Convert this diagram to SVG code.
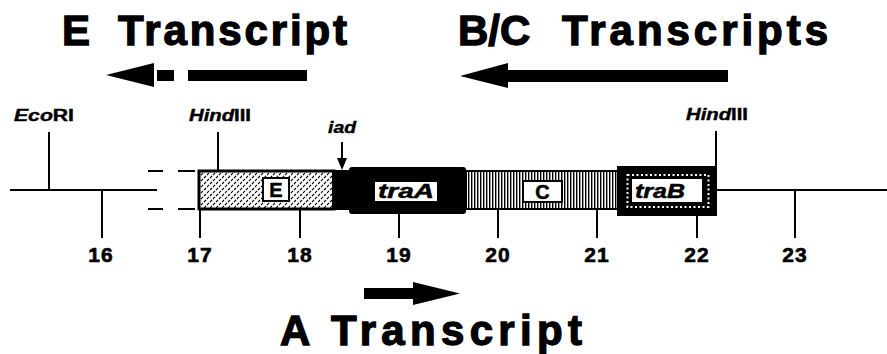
<svg xmlns="http://www.w3.org/2000/svg" width="887" height="354" viewBox="0 0 887 354">
  <defs>
    <!-- fine diagonal stipple for the E region -->
    <pattern id="stipple" width="6" height="6" patternUnits="userSpaceOnUse">
      <rect width="6" height="6" fill="#fff"/>
      <path d="M0,4 L2,2 M3,1 L4,0 M3,7 L5,5 M6,4 L7,3" stroke="#000" stroke-width="1.1"/>
    </pattern>
    <!-- vertical hatch for the C region -->
    <pattern id="vstripe" width="3" height="4" patternUnits="userSpaceOnUse">
      <rect width="3" height="4" fill="#fff"/>
      <rect x="0" y="0" width="1.4" height="4" fill="#000"/>
    </pattern>
    <style>
      .ln { stroke: #000; stroke-width: 2; fill: none; }
      .title { font-family: "Liberation Sans", Arial, sans-serif; font-weight: bold; font-size: 42px; fill: #000; stroke: #000; stroke-width: 1.3px; }
      .num { font-family: "Liberation Sans", Arial, sans-serif; font-weight: bold; font-size: 21px; fill: #000; stroke: #000; stroke-width: 0.6px; text-anchor: middle; letter-spacing: 1px; }
      .site { font-family: "Liberation Sans", Arial, sans-serif; font-weight: bold; font-size: 16px; fill: #000; stroke: #000; stroke-width: 0.4px; }
      .it { font-style: italic; }
      .lbl { font-family: "Liberation Sans", Arial, sans-serif; font-weight: bold; font-size: 20px; fill: #000; stroke: #000; stroke-width: 0.5px; text-anchor: middle; }
    </style>
  </defs>

  <!-- titles -->
  <g id="title-e">
    <text class="title" y="45"><tspan x="62">E</tspan><tspan x="118" textLength="229" lengthAdjust="spacing">Transcript</tspan></text>
  </g>
  <g id="title-bc">
    <text class="title" y="45"><tspan x="458">B/C</tspan><tspan x="562" textLength="266" lengthAdjust="spacing">Transcripts</tspan></text>
  </g>
  <g id="title-a">
    <text class="title" y="345" font-size="41"><tspan x="280">A</tspan><tspan x="331" textLength="251" lengthAdjust="spacing">Transcript</tspan></text>
  </g>

  <!-- transcript arrows -->
  <g id="arrow-e">
    <polygon points="106,75 154,63 154,87"/>
    <rect x="157" y="70" width="17" height="11"/>
    <rect x="188" y="70" width="119" height="11"/>
  </g>
  <g id="arrow-bc">
    <polygon points="460,76 508,63 508,88"/>
    <rect x="506" y="70" width="222" height="12"/>
  </g>
  <g id="arrow-a">
    <rect x="364" y="288" width="51" height="11"/>
    <polygon points="413,282 460,293.5 413,305"/>
  </g>

  <!-- backbone and scale ticks -->
  <g id="connectors">
    <line class="ln" x1="10" y1="190" x2="157" y2="190"/>
    <line class="ln" x1="717" y1="190" x2="887" y2="190"/>
    <!-- break marks -->
    <line class="ln" x1="148" y1="171" x2="163" y2="171"/>
    <line class="ln" x1="178" y1="171" x2="195" y2="171"/>
    <line class="ln" x1="148" y1="209" x2="163" y2="209"/>
    <line class="ln" x1="178" y1="209" x2="195" y2="209"/>
    <!-- site ticks -->
    <line class="ln" x1="49" y1="132" x2="49" y2="190"/>
    <line class="ln" x1="218" y1="132" x2="218" y2="171"/>
    <line class="ln" x1="716" y1="131" x2="716" y2="168"/>
    <!-- scale ticks -->
    <line class="ln" x1="102" y1="190" x2="102" y2="238"/>
    <line class="ln" x1="200" y1="209" x2="200" y2="238"/>
    <line class="ln" x1="300" y1="209" x2="300" y2="238"/>
    <line class="ln" x1="399" y1="212" x2="399" y2="238"/>
    <line class="ln" x1="498" y1="209" x2="498" y2="238"/>
    <line class="ln" x1="597" y1="209" x2="597" y2="238"/>
    <line class="ln" x1="697" y1="214" x2="697" y2="238"/>
    <line class="ln" x1="795" y1="190" x2="795" y2="238"/>
    <!-- iad marker -->
    <line class="ln" x1="342" y1="142" x2="342" y2="160"/>
    <polygon points="337,158 347,158 342,170"/>
  </g>

  <!-- E region -->
  <g id="region-e">
    <rect x="199" y="171" width="135" height="38" fill="url(#stipple)" stroke="#000" stroke-width="3"/>
    <rect x="263" y="178" width="26" height="23" fill="#fff" stroke="#000" stroke-width="2"/>
    <text class="lbl" x="276" y="197">E</text>
  </g>

  <!-- traA region -->
  <g id="region-traA">
    <rect x="332" y="170" width="20" height="40" fill="#000"/>
    <rect x="349" y="167" width="117" height="47" rx="3" fill="#000"/>
    <rect x="375" y="182" width="62" height="19" fill="#fff"/>
    <text class="lbl it" x="406" y="198" textLength="56" lengthAdjust="spacingAndGlyphs">traA</text>
  </g>

  <!-- C region -->
  <g id="region-c">
    <rect x="466" y="171" width="152" height="38" fill="url(#vstripe)" stroke="#000" stroke-width="2"/>
    <rect x="523" y="181" width="39" height="21" fill="#fff" stroke="#000" stroke-width="2"/>
    <text class="lbl" x="542.5" y="199">C</text>
  </g>

  <!-- traB region -->
  <g id="region-traB">
    <rect x="617" y="166" width="100" height="50" fill="#000"/>
    <rect x="627.5" y="175" width="81" height="32" fill="none" stroke="#fff" stroke-width="2" stroke-dasharray="2 2.5"/>
    <rect x="632" y="179" width="70" height="23" fill="#fff"/>
    <text class="lbl it" x="660" y="198" textLength="50" lengthAdjust="spacingAndGlyphs">traB</text>
  </g>

  <!-- restriction site labels -->
  <g id="site-ecori">
    <text class="site" x="14" y="121" textLength="60" lengthAdjust="spacingAndGlyphs"><tspan class="it">Eco</tspan>RI</text>
  </g>
  <g id="site-hind-left">
    <text class="site" x="189" y="121" textLength="62" lengthAdjust="spacingAndGlyphs"><tspan class="it">Hind</tspan>III</text>
  </g>
  <g id="site-hind-right">
    <text class="site" x="686" y="120" textLength="62" lengthAdjust="spacingAndGlyphs"><tspan class="it">Hind</tspan>III</text>
  </g>
  <g id="site-iad">
    <text class="site it" x="328" y="133" textLength="28" lengthAdjust="spacingAndGlyphs">iad</text>
  </g>

  <!-- scale numbers -->
  <g id="scale">
    <text class="num" x="101" y="262">16</text>
    <text class="num" x="200" y="262">17</text>
    <text class="num" x="300" y="262">18</text>
    <text class="num" x="399" y="262">19</text>
    <text class="num" x="498" y="262">20</text>
    <text class="num" x="597" y="262">21</text>
    <text class="num" x="697" y="262">22</text>
    <text class="num" x="795" y="262">23</text>
  </g>
</svg>
